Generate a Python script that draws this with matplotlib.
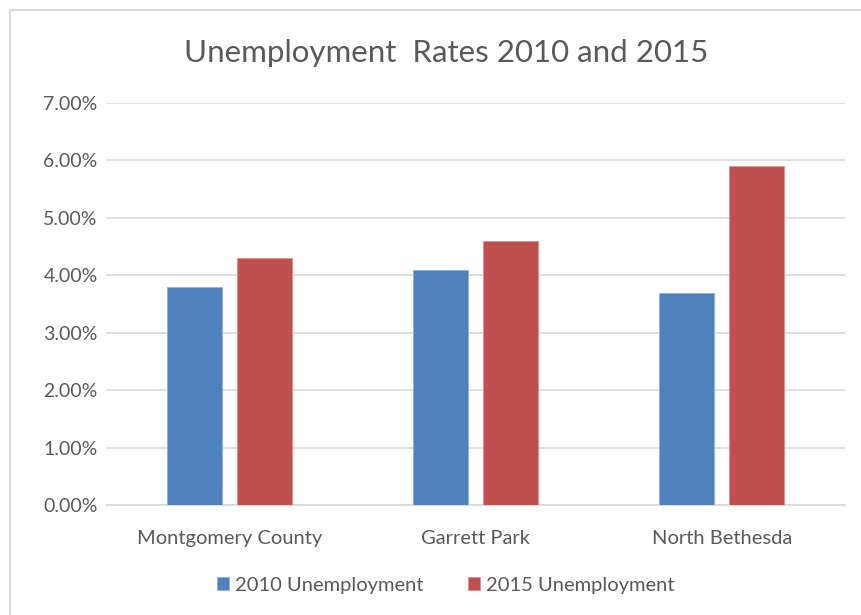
import matplotlib.pyplot as plt
import numpy as np
from matplotlib.patches import Rectangle

# dados
areas = ['Montgomery County', 'Garrett Park', 'North Bethesda']
desemp_2010 = [3.8, 4.1, 3.7]
desemp_2015 = [4.3, 4.6, 5.9]
y_ticks = [0, 1, 2, 3, 4, 5, 6, 7]

cinza = '#595959'
azul = '#4F81BD'
vermelho = '#C0504D'

plt.rcParams['font.family'] = ['Lato', 'DejaVu Sans']

fig = plt.figure(figsize=(8.62, 6.15), dpi=100)
ax = fig.add_axes([106/862, 1 - 505/615, (845-106)/862, (505-103)/615])

# moldura do gráfico
fig.patches.append(Rectangle((10/862, -0.05), 1.1, 1 - 9.5/615 + 0.05,
                             transform=fig.transFigure, fill=False,
                             edgecolor='#d9d9d9', linewidth=1.5))

x = np.arange(len(areas))
larg = 0.223
desl = 0.142
ax.bar(x - desl, desemp_2010, larg, color=azul, edgecolor='#8eb0dc',
       linewidth=0.6, label='2010 Unemployment', zorder=3)
ax.bar(x + desl, desemp_2015, larg, color=vermelho, edgecolor='#dc8e8c',
       linewidth=0.6, label='2015 Unemployment', zorder=3)

ax.set_xlim(-0.5, len(areas) - 0.5)
ax.set_ylim(0, 7)
ax.set_yticks(y_ticks)
ax.set_yticklabels([f'{v:.2f}%' for v in y_ticks])
ax.set_xticks(x)
ax.set_xticklabels(areas)

ax.grid(axis='y', color='#d9d9d9', linewidth=1.2, zorder=0)
for s in ['top', 'right', 'left']:
    ax.spines[s].set_visible(False)
ax.spines['bottom'].set_color('#d9d9d9')
ax.spines['bottom'].set_linewidth(1.2)
ax.tick_params(axis='both', length=0, colors=cinza)
ax.tick_params(axis='x', pad=18, labelsize=14.5)
ax.tick_params(axis='y', pad=6, labelsize=14)

fig.text(446/862, 1 - 53/615, 'Unemployment  Rates 2010 and 2015', ha='center',
         va='center', fontsize=22.5, color=cinza)

fig.legend(loc='center', bbox_to_anchor=(446/862, 1 - 585/615), ncol=2,
           frameon=False, fontsize=14.5, labelcolor=cinza, handlelength=0.6,
           handleheight=0.6, handletextpad=0.3, columnspacing=2.2)

plt.savefig('out.png', dpi=100)
